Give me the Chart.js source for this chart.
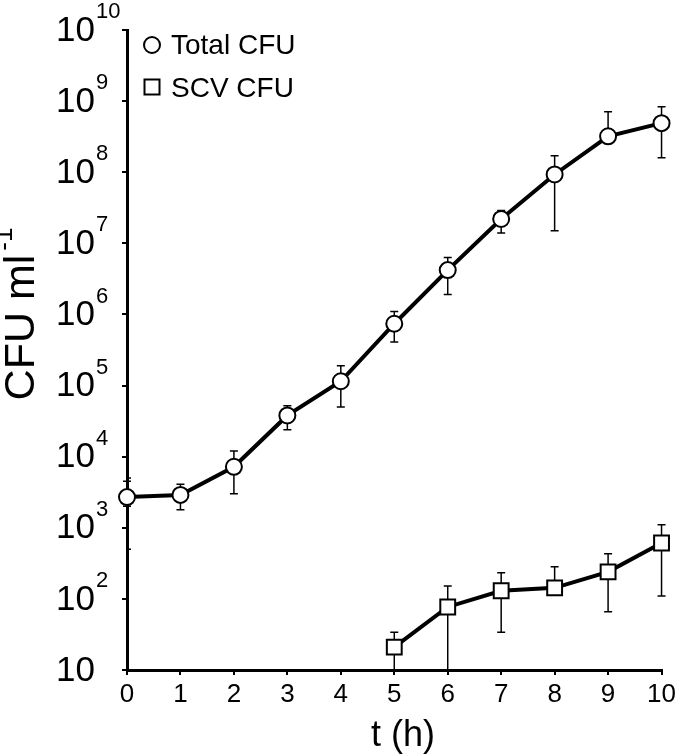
<!DOCTYPE html>
<html>
<head>
<meta charset="utf-8">
<script src="https://cdn.jsdelivr.net/npm/chart.js@4.4.1/dist/chart.umd.min.js"></script>
<style>
  html, body { margin: 0; padding: 0; background: #fff; }
  #wrap { width: 680px; height: 754px; }
</style>
</head>
<body>
<div id="wrap"><canvas id="cfu-chart"></canvas></div>
<script>
// CFU growth curve, log scale

const FONT = '"Liberation Sans", Arial, sans-serif';

const hours = [0, 1, 2, 3, 4, 5, 6, 7, 8, 9, 10];
const totalCfu  = [2.7e3, 2.9e3, 7.2e3, 3.8e4, 1.15e5, 7.4e5, 4.2e6, 2.2e7, 9.3e7, 3.2e8, 4.9e8];
const totalHigh = [4.5e3, 4.1e3, 1.2e4, 5.2e4, 1.9e5, 1.1e6, 6.3e6, 2.9e7, 1.7e8, 7.1e8, 8.3e8];
const totalLow  = [2.0e3, 1.8e3, 3.0e3, 2.4e4, 5.0e4, 4.1e5, 1.9e6, 1.4e7, 1.5e7, 2.9e8, 1.6e8];

const scvHours = [5, 6, 7, 8, 9, 10];
const scvCfu   = [21, 77, 130, 143, 240, 610];
const scvHigh  = [34, 152, 233, 282, 430, 1100];
const scvLow   = [1, 1, 34, 125, 66, 110];

const yExponents = [1, 2, 3, 4, 5, 6, 7, 8, 9, 10];
const yMinorTicks = [500, 5000];
const legendLabels = ['Total CFU', 'SCV CFU'];
const xTitle = 't (h)';
const yTitle = 'CFU ml';
const yTitleSup = '-1';

function toPoints(xs, ys) {
    return xs.map((x, i) => ({ x: x, y: ys[i] }));
}

// error bars drawn under the markers
const errorBars = {
    id: 'errorBars',
    beforeDatasetsDraw(chart) {
        const { ctx, chartArea, scales } = chart;
        const sets = [
            [hours, totalHigh, totalLow],
            [scvHours, scvHigh, scvLow]
        ];
        ctx.save();
        ctx.beginPath();
        ctx.rect(chartArea.left - 10, chartArea.top - 10, chartArea.width + 20, chartArea.height + 10);
        ctx.clip();
        ctx.strokeStyle = '#000';
        ctx.lineWidth = 1.5;
        sets.forEach(([xs, hi, lo]) => {
            xs.forEach((h, i) => {
                const x = scales.x.getPixelForValue(h);
                const yHi = scales.y.getPixelForValue(hi[i]);
                const yLo = Math.min(scales.y.getPixelForValue(lo[i]), chartArea.bottom);
                ctx.beginPath();
                ctx.moveTo(x, yHi);
                ctx.lineTo(x, yLo);
                ctx.moveTo(x - 4, yHi);
                ctx.lineTo(x + 4, yHi);
                if (yLo < chartArea.bottom) {
                    ctx.moveTo(x - 4, yLo);
                    ctx.lineTo(x + 4, yLo);
                }
                ctx.stroke();
            });
        });
        // small inner ticks on the y axis
        ctx.lineWidth = 1.5;
        yMinorTicks.forEach(v => {
            const y = scales.y.getPixelForValue(v);
            ctx.beginPath();
            ctx.moveTo(chartArea.left, y);
            ctx.lineTo(chartArea.left + 4, y);
            ctx.stroke();
        });
        ctx.restore();
    }
};

// superscript tick labels, axis titles, legend
const annotations = {
    id: 'annotations',
    afterDraw(chart) {
        const { ctx, scales } = chart;
        ctx.save();
        ctx.fillStyle = '#000';
        ctx.textBaseline = 'middle';
        ctx.textAlign = 'left';

        yExponents.forEach(e => {
            const y = scales.y.getPixelForValue(Math.pow(10, e));
            ctx.font = '35px ' + FONT;
            ctx.fillText('10', 56, y + 1);
            if (e > 1) {
                const w = ctx.measureText('10').width;
                ctx.font = '22px ' + FONT;
                ctx.fillText(String(e), 56 + w + 1, y - 18);
            }
        });

        // y title, rotated
        ctx.save();
        ctx.translate(22, 314);
        ctx.rotate(-Math.PI / 2);
        ctx.font = '43px ' + FONT;
        const w1 = ctx.measureText(yTitle).width;
        ctx.font = '26px ' + FONT;
        const w2 = ctx.measureText(yTitleSup).width;
        const start = -(w1 + w2 + 4) / 2;
        ctx.font = '43px ' + FONT;
        ctx.fillText(yTitle, start, 0);
        ctx.font = '26px ' + FONT;
        ctx.fillText(yTitleSup, start + w1 + 4, -17);
        ctx.restore();

        // x title
        ctx.textAlign = 'center';
        ctx.font = '36px ' + FONT;
        ctx.fillText(xTitle, 403, 736);

        // legend
        ctx.textAlign = 'left';
        ctx.font = '28px ' + FONT;
        ctx.strokeStyle = '#000';
        ctx.lineWidth = 2;
        ctx.fillStyle = '#fff';
        ctx.beginPath();
        ctx.arc(152, 45, 8, 0, 2 * Math.PI);
        ctx.fill();
        ctx.stroke();
        ctx.fillRect(144.5, 79.5, 15, 15);
        ctx.strokeRect(144.5, 79.5, 15, 15);
        ctx.fillStyle = '#000';
        ctx.fillText(legendLabels[0], 171, 46);
        ctx.fillText(legendLabels[1], 171, 89);
        ctx.restore();
    }
};

const axisStyle = {
    grid: { drawOnChartArea: false, color: '#000', lineWidth: 2, tickLength: 5 },
    border: { color: '#000', width: 3 }
};

new Chart(document.getElementById('cfu-chart'), {
    type: 'line',
    data: {
        datasets: [
            {
                label: legendLabels[0],
                data: toPoints(hours, totalCfu),
                borderColor: '#000',
                borderWidth: 4,
                pointStyle: 'circle',
                pointRadius: 8,
                pointBorderWidth: 2,
                pointBackgroundColor: '#fff',
                pointBorderColor: '#000',
                clip: false
            },
            {
                label: legendLabels[1],
                data: toPoints(scvHours, scvCfu),
                borderColor: '#000',
                borderWidth: 4,
                pointStyle: 'rect',
                pointRadius: 10.5,
                pointBorderWidth: 2,
                pointBackgroundColor: '#fff',
                pointBorderColor: '#000',
                clip: false
            }
        ]
    },
    options: {
        responsive: true,
        maintainAspectRatio: false,
        animation: false,
        layout: { padding: { top: 30, right: 18, left: 0, bottom: 0 } },
        plugins: { legend: { display: false }, tooltip: { enabled: false } },
        scales: {
            x: {
                type: 'linear',
                min: 0,
                max: 10,
                ticks: { stepSize: 1, color: '#000', font: { family: FONT, size: 26 }, padding: 4 },
                ...axisStyle,
                afterFit: s => { s.height = 84; }
            },
            y: {
                type: 'logarithmic',
                min: 10,
                max: 1e10,
                afterBuildTicks: s => {
                    s.ticks = yExponents.map(e => ({ value: Math.pow(10, e), major: true }));
                },
                ticks: { callback: () => '' },
                ...axisStyle,
                afterFit: s => { s.width = 127; }
            }
        }
    },
    plugins: [errorBars, annotations]
});
</script>
</body>
</html>
